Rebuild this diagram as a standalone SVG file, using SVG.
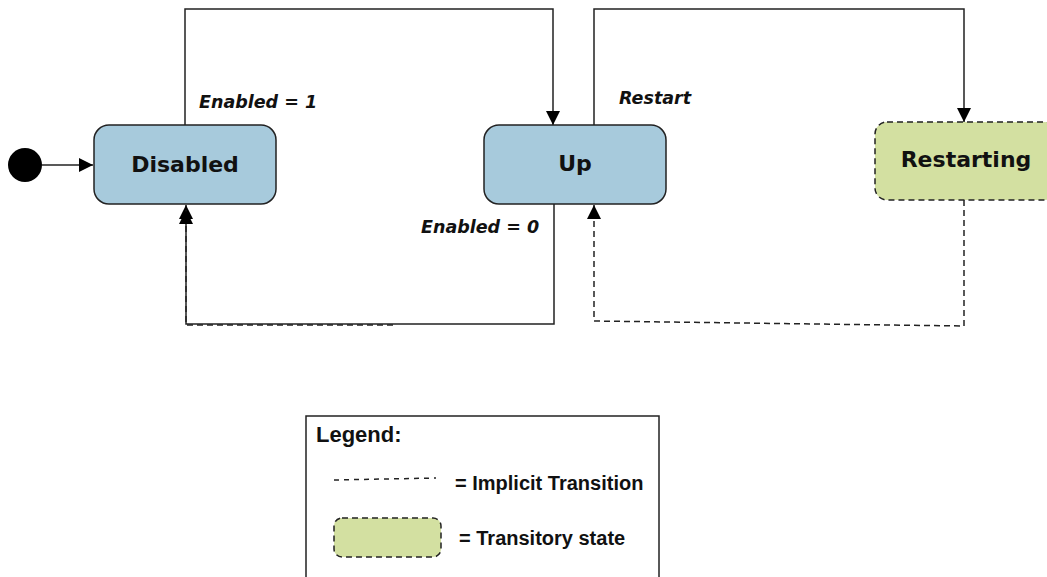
<svg xmlns="http://www.w3.org/2000/svg" width="1047" height="577" viewBox="0 0 1047 577">
<defs>
<marker id="arr" markerWidth="16" markerHeight="16" refX="14" refY="7" orient="auto" markerUnits="userSpaceOnUse">
<path d="M0,0 L14,7 L0,14 Z" fill="#000"/>
</marker>
<style>
.state{fill:#a7cadc;stroke:#222;stroke-width:1.5}
.trans{fill:#d3e0a1;stroke:#222;stroke-width:1.5;stroke-dasharray:6,4}
.sl{font-family:"DejaVu Sans",Verdana,sans-serif;font-weight:bold;font-size:22px;fill:#111;text-anchor:middle}
.el{font-family:"DejaVu Sans",Verdana,sans-serif;font-weight:bold;font-style:italic;font-size:17.5px;fill:#111}
.line{fill:none;stroke:#222;stroke-width:1.5}
.dash{fill:none;stroke:#222;stroke-width:1.5;stroke-dasharray:6,4}
.lg{font-family:"Liberation Sans",Arial,sans-serif;font-weight:bold;font-size:20px;fill:#111}
.lgh{font-family:"Liberation Sans",Arial,sans-serif;font-weight:bold;font-size:22px;fill:#111}
</style>
</defs>
<rect width="1047" height="577" fill="#fff"/>
<g id="connectors">
<line class="line" x1="42" y1="165" x2="93" y2="165" marker-end="url(#arr)"/>
<polyline class="line" points="185,125 185,9 553,9 553,125" marker-end="url(#arr)"/>
<polyline class="line" points="594,125 594,9 964,9 964,122" marker-end="url(#arr)"/>
<polyline class="line" points="554,204 554,324 186,324 186,205" marker-end="url(#arr)"/>
<polyline class="dash" points="393,325 186,325 186,210" marker-end="url(#arr)"/>
<polyline class="dash" points="964,200 964,326 594,321 594,205" marker-end="url(#arr)"/>
<text class="el" x="199" y="108">Enabled = 1</text>
<text class="el" x="619" y="104">Restart</text>
<text class="el" x="421" y="233">Enabled = 0</text>
</g>
<g id="start">
<circle cx="25" cy="165" r="17" fill="#000"/>
</g>
<g id="disabled">
<rect class="state" x="94" y="125" width="182" height="79" rx="15"/>
<text class="sl" x="185" y="172">Disabled</text>
</g>
<g id="up">
<rect class="state" x="484" y="125" width="182" height="79" rx="15"/>
<text class="sl" x="575" y="171">Up</text>
</g>
<g id="restarting">
<rect class="trans" x="875" y="122" width="182" height="78" rx="12"/>
<text class="sl" x="966" y="167">Restarting</text>
</g>
<g id="legend">
<rect x="306" y="416" width="353" height="170" fill="#fff" stroke="#222" stroke-width="1.5"/>
<text class="lgh" x="316" y="442">Legend:</text>
<line x1="334" y1="480" x2="436" y2="478" stroke="#222" stroke-width="1.5" stroke-dasharray="5,5"/>
<text class="lg" x="455" y="490">= Implicit Transition</text>
<rect class="trans" x="334" y="518" width="107" height="39" rx="8"/>
<text class="lg" x="459" y="545">= Transitory state</text>
</g>
</svg>
